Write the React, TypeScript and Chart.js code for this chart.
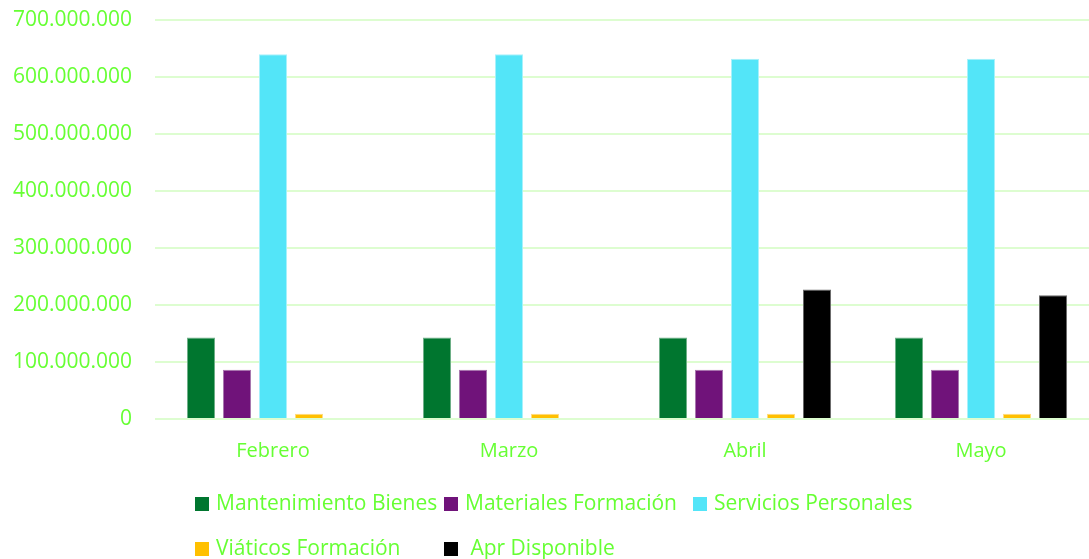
import React, { useEffect, useRef } from "react";
import { Chart, registerables } from "chart.js";

Chart.register(...registerables);

const categories = ["Febrero", "Marzo", "Abril", "Mayo"];
const mantenimientoBienes = [143000000, 143000000, 143000000, 143000000];
const materialesFormacion = [86500000, 86500000, 86500000, 86500000];
const serviciosPersonales = [640000000, 640000000, 632000000, 632000000];
const viaticosFormacion = [9000000, 9000000, 9000000, 9000000];
const aprDisponible = [null, null, 227000000, 217000000];

const seriesLabels = [
  "Mantenimiento Bienes",
  "Materiales Formación",
  "Servicios Personales",
  "Viáticos Formación",
  " Apr Disponible",
];
const seriesColors = ["#00762F", "#70137A", "#53E5F8", "#FFC000", "#000000"];
const seriesBorders = ["#6fb089", "#a877ae", "#a8f1fb", "#ffdc80", "#6a6a6a"];

const TEXT_COLOR = "#66FF33";
const GRID_COLOR = "#DDFDD0";
const FONT = "Open Sans";

const fmt = (v: number) => String(Math.round(v)).replace(/\B(?=(\d{3})+(?!\d))/g, ".");

const gridLegend = {
  id: "gridLegend",
  afterDraw(chart: any) {
    const ctx = chart.ctx;
    ctx.save();
    chart.data.datasets.forEach((ds: any, i: number) => {
      const col = i % 3;
      const row = Math.floor(i / 3);
      const x = 195 + col * 249;
      const y = 504 + row * 45;
      ctx.fillStyle = ds.backgroundColor;
      ctx.fillRect(x, y - 7, 14, 14);
      ctx.fillStyle = TEXT_COLOR;
      ctx.font = `21px "${FONT}"`;
      ctx.textBaseline = "middle";
      ctx.textAlign = "left";
      ctx.fillText(ds.label, x + 21, y);
    });
    ctx.restore();
  },
};

export default function App() {
  const ref = useRef<HTMLCanvasElement | null>(null);

  useEffect(() => {
    if (!ref.current) return;
    const series = [mantenimientoBienes, materialesFormacion, serviciosPersonales, viaticosFormacion, aprDisponible];
    const chart = new Chart(ref.current, {
      type: "bar",
      data: {
        labels: categories,
        datasets: series.map((data, i) => ({
          label: seriesLabels[i],
          data: data as any,
          backgroundColor: seriesColors[i],
          borderColor: seriesBorders[i],
          borderWidth: 1,
          barPercentage: 0.78,
          categoryPercentage: 0.763,
        })),
      },
      options: {
        animation: false,
        responsive: false,
        maintainAspectRatio: false,
        layout: { padding: { top: 20, right: 11, bottom: 0, left: 0 } },
        plugins: { legend: { display: false }, tooltip: { enabled: false } },
        scales: {
          x: {
            grid: { display: false, drawTicks: false },
            border: { display: false },
            ticks: { color: TEXT_COLOR, font: { family: FONT, size: 20 }, padding: 20 },
            afterFit: (s: any) => {
              s.height = 140;
              s.paddingTop = 0;
              s.paddingBottom = 0;
            },
          },
          y: {
            min: 0,
            max: 700000000,
            grid: { color: GRID_COLOR, lineWidth: 2, drawTicks: false },
            border: { display: false },
            ticks: {
              stepSize: 100000000,
              color: TEXT_COLOR,
              font: { family: FONT, size: 21 },
              padding: 23,
              callback: (v: any) => fmt(Number(v)),
            },
            afterFit: (s: any) => {
              s.width = 155;
              s.paddingTop = 0;
              s.paddingBottom = 0;
            },
          },
        },
      },
      plugins: [gridLegend],
    });
    return () => chart.destroy();
  }, []);

  return (
    <div style={{ position: "absolute", left: 0, top: 0, width: 1089, height: 559, overflow: "hidden", background: "#fff" }}>
      <canvas ref={ref} width={1110} height={559} style={{ display: "block", width: 1110, height: 559 }} />
    </div>
  );
}
